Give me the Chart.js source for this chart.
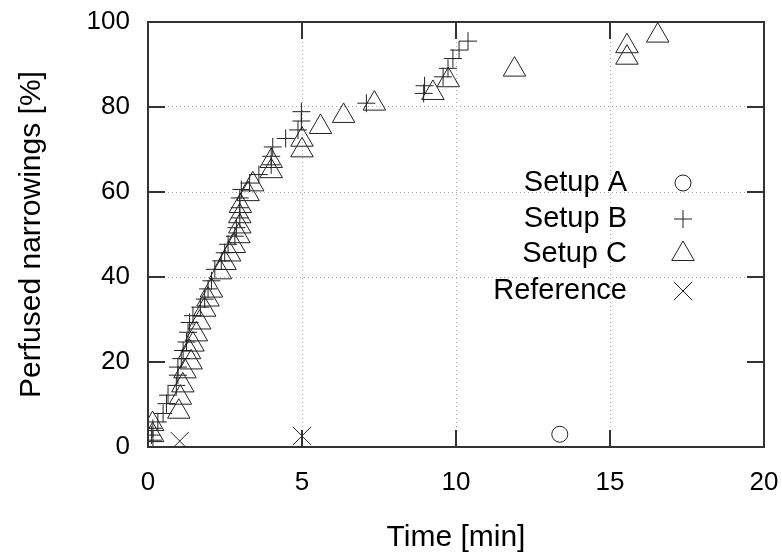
<!DOCTYPE html>
<html>
<head>
<meta charset="utf-8">
<script src="https://cdn.jsdelivr.net/npm/chart.js@4.4.1/dist/chart.umd.min.js"></script>
<style>
  html, body { margin: 0; padding: 0; background: #fff; }
  #wrap { width: 782px; height: 556px; }
</style>
</head>
<body>
<div id="wrap"><canvas id="narrowChart" width="782" height="556"></canvas></div>
<script>
const ctx = document.querySelector("#narrowChart").getContext("2d");

// data (time in min, perfused narrowings in %)
const setupATime = [13.37];
const setupAValue = [3.0];

const setupBTime = [0.16, 0.11, 0.16, 0.32, 0.49, 0.6, 0.65, 0.92, 0.97, 0.97, 1.08, 1.14, 1.25, 1.3, 1.35, 1.46, 1.7, 1.84, 1.95, 2.06, 2.17, 2.38, 2.49, 2.6, 2.82, 2.87, 2.98, 2.98, 2.98, 3.03, 3.3, 3.6, 4.0, 4.0, 4.05, 4.47, 4.87, 4.98, 4.98, 7.09, 8.95, 8.98, 9.58, 9.74, 9.9, 10.1, 10.39];
const setupBValue = [1.6, 2.8, 4.4, 5.9, 7.9, 10.2, 12.2, 14.5, 16.9, 18.8, 20.8, 22.7, 24.7, 27, 29.3, 30.9, 32.9, 34.8, 37.2, 39.1, 41.8, 43.8, 45.7, 47.7, 49.6, 51.6, 53.9, 56.3, 58.6, 60.6, 62.1, 64.1, 66.4, 68.4, 70.6, 72.6, 74.6, 76.7, 78.9, 80.9, 83.2, 85, 87.1, 89.1, 91.4, 93.4, 95.5];

const setupCTime = [0.15, 0.15, 1.0, 1.05, 1.13, 1.2, 1.4, 1.35, 1.46, 1.57, 1.68, 1.84, 1.95, 2.06, 2.35, 2.5, 2.65, 2.8, 2.95, 2.98, 2.98, 3.0, 3.25, 3.4, 4.0, 4.0, 5.0, 5.0, 5.6, 6.35, 7.35, 9.25, 9.75, 11.9, 15.55, 15.55, 16.55];
const setupCValue = [2.8, 5.4, 8.3, 11.6, 14.5, 17.8, 19.9, 22.3, 24.1, 26.5, 29.3, 32.3, 34.7, 36.8, 41.1, 43.3, 45.3, 47.3, 49.6, 51.9, 54.3, 56.7, 59.5, 61.8, 64.9, 67.3, 69.8, 72.3, 75.3, 77.9, 80.8, 83.3, 86.3, 88.8, 91.6, 94.3, 96.8];

const refTime = [1.03, 5.0];
const refValue = [1.4, 2.6];

const xTicks = [0, 5, 10, 15, 20];
const yTicks = [0, 20, 40, 60, 80, 100];

const ink = "#222";
const toPoints = (xs, ys) => xs.map((x, i) => ({ x: x, y: ys[i] }));

const data = {
  datasets: [
    { label: "Setup A", data: toPoints(setupATime, setupAValue), pointStyle: "circle", pointRadius: 8 },
    { label: "Setup B", data: toPoints(setupBTime, setupBValue), pointStyle: "cross", pointRadius: 9 },
    { label: "Setup C", data: toPoints(setupCTime, setupCValue), pointStyle: "triangle", pointRadius: 13 },
    { label: "Reference", data: toPoints(refTime, refValue), pointStyle: "crossRot", pointRadius: 13 },
  ].map((d) => Object.assign(d, {
    borderColor: ink,
    backgroundColor: "rgba(0,0,0,0)",
    borderWidth: 1,
    pointBorderWidth: 1,
    pointHoverRadius: d.pointRadius,
  })),
};

// gnuplot style: box border, inward ticks, key on the right of the text
const framePlugin = {
  id: "frame",
  afterDraw(chart) {
    const c = chart.ctx;
    const a = chart.chartArea;
    const xs = chart.scales.x;
    const ys = chart.scales.y;
    const len = 17;
    c.save();
    c.strokeStyle = "#333";
    c.lineWidth = 2;
    c.strokeRect(a.left, a.top, a.right - a.left, a.bottom - a.top);
    c.beginPath();
    xTicks.forEach((v) => {
      const px = xs.getPixelForValue(v);
      c.moveTo(px, a.bottom); c.lineTo(px, a.bottom - len);
      c.moveTo(px, a.top); c.lineTo(px, a.top + len);
    });
    yTicks.forEach((v) => {
      const py = ys.getPixelForValue(v);
      c.moveTo(a.left, py); c.lineTo(a.left + len, py);
      c.moveTo(a.right, py); c.lineTo(a.right - len, py);
    });
    c.stroke();

    // key
    c.font = "29px 'Liberation Sans', Arial, sans-serif";
    c.textAlign = "right";
    c.textBaseline = "middle";
    const textRight = 627;
    const markX = 683;
    const rowY = [183, 219, 254, 291];
    chart.data.datasets.forEach((d, i) => {
      c.fillStyle = "#000";
      c.fillText(d.label, textRight, rowY[i]);
      c.fillStyle = "rgba(0,0,0,0)";
      c.strokeStyle = ink;
      c.lineWidth = 1;
      Chart.helpers.drawPoint(c, { pointStyle: d.pointStyle, radius: d.pointRadius, rotation: 0, borderWidth: 1 }, markX, rowY[i]);
    });
    c.restore();
  },
};

const gridColor = (ctxt) => {
  const v = ctxt.tick ? ctxt.tick.value : null;
  return (v === 0 || v === 20 || v === 100) ? "rgba(0,0,0,0)" : "#aaa";
};

const font = { family: "'Liberation Sans', Arial, sans-serif", size: 26 };
const titleFont = { family: "'Liberation Sans', Arial, sans-serif", size: 30 };

const config = {
  type: "scatter",
  data: data,
  options: {
    responsive: false,
    animation: false,
    events: [],
    layout: { padding: { left: 0, top: 22, right: 18, bottom: 0 } },
    plugins: { legend: { display: false }, tooltip: { enabled: false } },
    scales: {
      x: {
        type: "linear",
        min: 0,
        max: 20,
        afterBuildTicks: (s) => { s.ticks = xTicks.map((v) => ({ value: v })); },
        afterFit: (s) => { s.height = 109; s.paddingLeft = 0; s.paddingRight = 0; },
        ticks: { color: "#000", font: font, padding: 20, maxRotation: 0 },
        grid: { color: gridColor, lineWidth: 1, drawTicks: false, tickLength: 0 },
        border: { display: false, dash: [1, 3] },
        title: { display: true, text: "Time [min]", color: "#000", font: titleFont, padding: { top: 0, bottom: 0 } },
      },
      y: {
        type: "linear",
        min: 0,
        max: 100,
        afterBuildTicks: (s) => { s.ticks = yTicks.map((v) => ({ value: v })); },
        afterFit: (s) => { s.width = 148; s.paddingTop = 0; s.paddingBottom = 0; },
        ticks: { color: "#000", font: font, padding: 18 },
        grid: { color: gridColor, lineWidth: 1, drawTicks: false, tickLength: 0 },
        border: { display: false, dash: [1, 3] },
        title: { display: true, text: "Perfused narrowings [%]", color: "#000", font: titleFont, padding: { top: 14, bottom: 0 } },
      },
    },
  },
  plugins: [framePlugin],
};

const narrowChart = new Chart(ctx, config);
</script>
</body>
</html>
